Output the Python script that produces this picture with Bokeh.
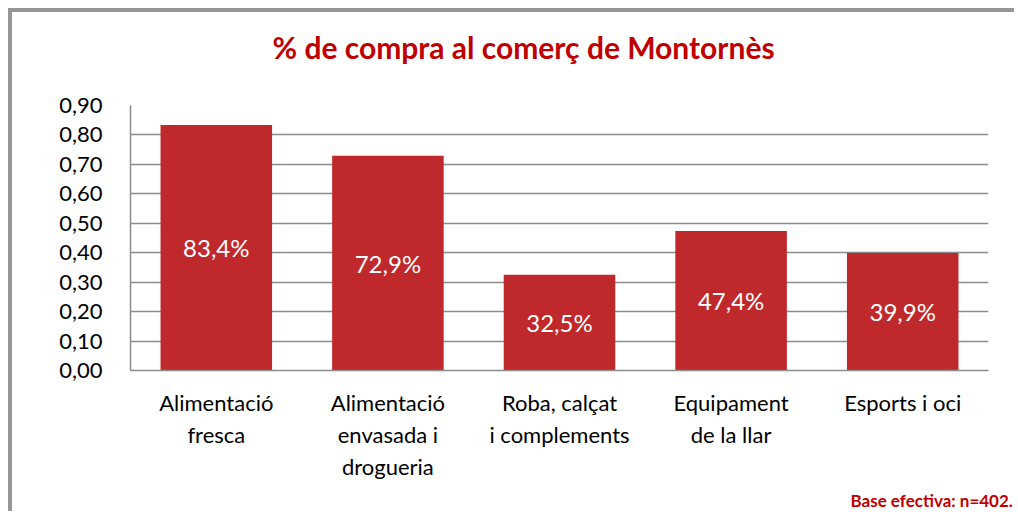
from bokeh.plotting import figure
from bokeh.models import ColumnDataSource, FactorRange, Range1d, FixedTicker, CustomJSTickFormatter, Title
from bokeh.core.properties import value
from bokeh.embed import file_html
from bokeh.resources import INLINE

categories = ["Alimentació\nfresca", "Alimentació\nenvasada i\ndrogueria", "Roba, calçat\ni complements",
              "Equipament\nde la llar", "Esports i oci"]
shares = [0.834, 0.729, 0.325, 0.474, 0.399]
y_ticks = [0.0, 0.1, 0.2, 0.3, 0.4, 0.5, 0.6, 0.7, 0.8, 0.9]
title_text = "% de compra al comerç de Montornès"
footer_text = "Base efectiva: n=402."

FONT = "Lato"
BAR = "#C0292B"
RED = "#C00000"
GRID = "#8C8C8C"

labels = [f"{v*100:.1f}".replace(".", ",") + "%" for v in shares]
src = ColumnDataSource(dict(cat=categories, val=shares, mid=[v / 2 for v in shares], lab=labels))

p = figure(width=1006, height=503, x_range=FactorRange(*categories), y_range=Range1d(0, 0.9),
           output_backend="svg", toolbar_location=None,
           min_border_left=118, min_border_right=30, min_border_top=93, min_border_bottom=145,
           styles={"margin-left": "8px", "margin-top": "8px",
                   "border-left": "4px solid #969696", "border-top": "4px solid #969696"})
p.outline_line_color = None
p.background_fill_color = "white"
p.border_fill_color = "white"

p.title = Title(text=title_text, align="left", offset=142, standoff=32, vertical_align="top",
                text_font=FONT, text_font_size="30px", text_font_style="bold", text_color=RED)
# thin spacer between the title and the plot area
p.add_layout(Title(text=" ", standoff=20, text_font_size="1px"), "above")
p.add_layout(Title(text=footer_text, align="left", offset=720, standoff=9,
                   text_font=FONT, text_font_size="17px", text_font_style="bold", text_color=RED), "below")

p.vbar(x="cat", top="val", width=0.65, source=src, fill_color=BAR, line_color=None)
p.text(x="cat", y="mid", text="lab", source=src, text_color="white", text_font=value(FONT),
       text_font_size="24px", text_align="center", text_baseline="middle")

p.yaxis.ticker = FixedTicker(ticks=y_ticks)
p.yaxis.formatter = CustomJSTickFormatter(code="return tick.toFixed(2).replace('.', ',')")
p.yaxis.major_tick_line_color = None
p.yaxis.minor_tick_line_color = None
p.yaxis.axis_line_color = GRID
p.yaxis.axis_line_width = 1.5
p.yaxis.major_label_text_font = FONT
p.yaxis.major_label_text_font_size = "22px"
p.yaxis.major_label_text_color = "black"
p.yaxis.major_label_standoff = 22

p.xaxis.major_tick_line_color = None
p.xaxis.axis_line_color = GRID
p.xaxis.axis_line_width = 1.5
p.xaxis.major_label_text_font = FONT
p.xaxis.major_label_text_font_size = "22px"
p.xaxis.major_label_text_color = "black"
p.xaxis.major_label_text_line_height = 1.2
p.xaxis.major_label_standoff = 12

p.xgrid.grid_line_color = None
p.ygrid.grid_line_color = GRID
p.ygrid.grid_line_width = 1.5

open("out.html", "w").write(file_html(p, INLINE))
